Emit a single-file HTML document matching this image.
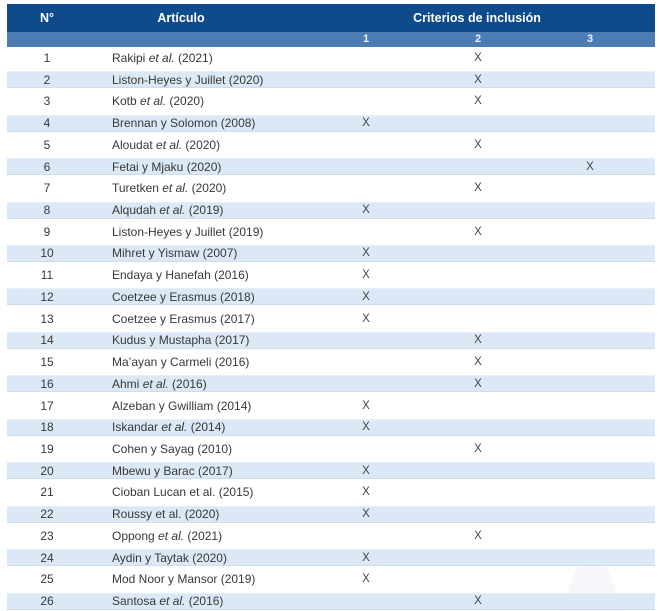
<!DOCTYPE html>
<html><head><meta charset="utf-8"><style>
html,body{margin:0;padding:0;background:#fff;}
body{width:660px;height:611px;position:relative;overflow:hidden;font-family:"Liberation Sans",sans-serif;}
.hd{position:absolute;left:7px;top:4px;width:648px;height:28px;background:#0f4a8a;}
.sh{position:absolute;left:7px;top:32px;width:648px;height:15px;background:#4b7db3;}
.ht{position:absolute;color:#fff;font-weight:bold;font-size:12.5px;top:4px;height:28px;line-height:28px;text-align:center;}
.st{position:absolute;color:#eaf1f9;font-weight:bold;font-size:11px;top:32px;height:15px;line-height:15px;width:20px;text-align:center;}
.band{position:absolute;left:7px;width:648px;height:17px;background:#dbe8f6;border-top:1px solid #e6eef8;border-bottom:1px solid #cfdcec;box-sizing:border-box;}
.r{position:absolute;height:20px;line-height:20px;font-size:12px;color:#383838;}
.n{left:27px;width:40px;text-align:center;}
.a{left:112px;white-space:nowrap;}
.x{width:20px;text-align:center;font-size:11.5px;color:#444;}
</style></head><body>
<div class="hd"></div>
<div class="sh"></div>
<div class="ht" style="left:27px;width:40px;">N°</div>
<div class="ht" style="left:120px;width:122px;">Artículo</div>
<div class="ht" style="left:390px;width:174px;">Criterios de inclusión</div>
<div class="st" style="left:356px;">1</div>
<div class="st" style="left:468px;">2</div>
<div class="st" style="left:580px;">3</div>
<svg style="position:absolute;left:0;top:0" width="660" height="611"><polygon points="578,563 606,563 624,611 560,611" fill="#f5f7fa"/></svg>
<div id="rows"></div>
<script>
var d=[["Rakipi <i>et al.</i> (2021)",2],["Liston-Heyes y Juillet (2020)",2],["Kotb <i>et al.</i> (2020)",2],["Brennan y Solomon (2008)",1],["Aloudat <i>et al.</i> (2020)",2],["Fetai y Mjaku (2020)",3],["Turetken <i>et al.</i> (2020)",2],["Alqudah <i>et al.</i> (2019)",1],["Liston-Heyes y Juillet (2019)",2],["Mihret y Yismaw (2007)",1],["Endaya y Hanefah (2016)",1],["Coetzee y Erasmus (2018)",1],["Coetzee y Erasmus (2017)",1],["Kudus y Mustapha (2017)",2],["Ma’ayan y Carmeli (2016)",2],["Ahmi <i>et al.</i> (2016)",2],["Alzeban y Gwilliam (2014)",1],["Iskandar <i>et al.</i> (2014)",1],["Cohen y Sayag (2010)",2],["Mbewu y Barac (2017)",1],["Cioban Lucan et al. (2015)",1],["Roussy et al. (2020)",1],["Oppong <i>et al.</i> (2021)",2],["Aydin y Taytak (2020)",1],["Mod Noor y Mansor (2019)",1],["Santosa <i>et al.</i> (2016)",2]];
var xs=[0,366,478,590],h="";
for(var i=0;i<d.length;i++){var c=58+i*21.72;
if(i%2==1)h+='<div class="band" style="top:'+(c-8.5)+'px"></div>';
h+='<div class="r n" style="top:'+(c-10)+'px">'+(i+1)+'</div>';
h+='<div class="r a" style="top:'+(c-10)+'px">'+d[i][0]+'</div>';
h+='<div class="r x" style="left:'+(xs[d[i][1]]-10)+'px;top:'+(c-10)+'px">X</div>';}
document.getElementById("rows").innerHTML=h;
</script>
</body></html>
